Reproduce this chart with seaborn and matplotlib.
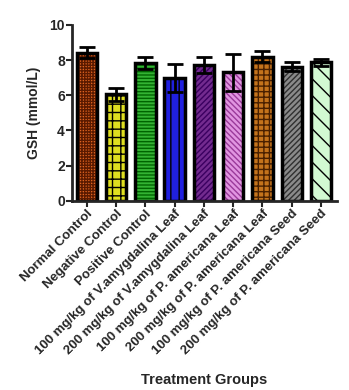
import matplotlib
matplotlib.use("Agg")
import matplotlib.pyplot as plt
import seaborn as sns
import pandas as pd
import numpy as np

groups = ["Normal Control", "Negative Control", "Positive Control",
          "100 mg/kg of V.amygdalina Leaf", "200 mg/kg of V.amygdalina Leaf",
          "100 mg/kg of P. americana Leaf", "200 mg/kg of P. americana Leaf",
          "100 mg/kg of P. americana Seed", "200 mg/kg of P. americana Seed"]
gsh = [8.42, 6.06, 7.84, 6.97, 7.71, 7.31, 8.20, 7.63, 7.88]
sem = [0.32, 0.36, 0.36, 0.79, 0.45, 1.05, 0.30, 0.24, 0.20]
colors = ["#ff5a00", "#ffff00", "#1ec81e", "#0000ff", "#7a1aa0",
          "#ee88ee", "#e07400", "#8a8a8a", "#ccffcc"]
hatch_colors = ["#5a1a00", "black", "#006400", "black", "#3a0060",
                "#9a3a9a", "#4a2000", "#303030", "black"]
hatches = ["++++++", "++", "-----", "||", "//////", "\\\\\\\\\\\\", "+++", "//////", "\\\\"]

sns.set_style("ticks")
plt.rcParams['font.family'] = ['Liberation Sans', 'DejaVu Sans']
plt.rcParams['font.weight'] = 'bold'
plt.rcParams['hatch.linewidth'] = 1.0

df = pd.DataFrame({"group": groups, "gsh": gsh})
fig = plt.figure(figsize=(3.49, 3.90), dpi=100)
ax = fig.add_axes([0.206, 0.485, 0.76, 0.451])
# filled + hatched layer
sns.barplot(data=df, x="group", y="gsh", hue="group", palette=colors,
            order=groups, hue_order=groups, legend=False, errorbar=None,
            width=0.7, linewidth=0, ax=ax, dodge=False)
n_fill = len(ax.patches)
for p, h, hc in zip(ax.patches, hatches, hatch_colors):
    p.set_hatch(h)
    p.set_edgecolor(hc)
    p.set_linewidth(0)
# outline layer
sns.barplot(data=df, x="group", y="gsh", order=groups, errorbar=None,
            width=0.7, fill=False, edgecolor="black", linewidth=2.5, ax=ax)
ax.errorbar(np.arange(len(groups)), gsh, yerr=sem, fmt="none", ecolor="black",
            elinewidth=2, capsize=6, capthick=2, zorder=5)

ax.set_ylim(0, 10)
ax.set_xlim(-0.51, 8.55)
ax.set_yticks([0, 2, 4, 6, 8, 10])
ax.set_ylabel("GSH (mmol/L)", fontsize=10, fontweight="bold", labelpad=6)
ax.set_xlabel("Treatment Groups", fontsize=10.5, fontweight="bold")
ax.set_xticks(range(len(groups)))
ax.set_xticklabels(groups, rotation=45, ha="right", rotation_mode="anchor",
                   fontsize=9.5, fontweight="bold")
for lab in ax.get_yticklabels():
    lab.set_fontweight("bold")
    lab.set_fontsize(10)
ax.tick_params(axis="both", width=1.5, length=4, pad=1)
for s in ["left", "bottom"]:
    ax.spines[s].set_linewidth(2)
sns.despine(ax=ax)
ax.xaxis.set_label_coords(0.5, -0.98)
fig.savefig("out.png", dpi=100)
